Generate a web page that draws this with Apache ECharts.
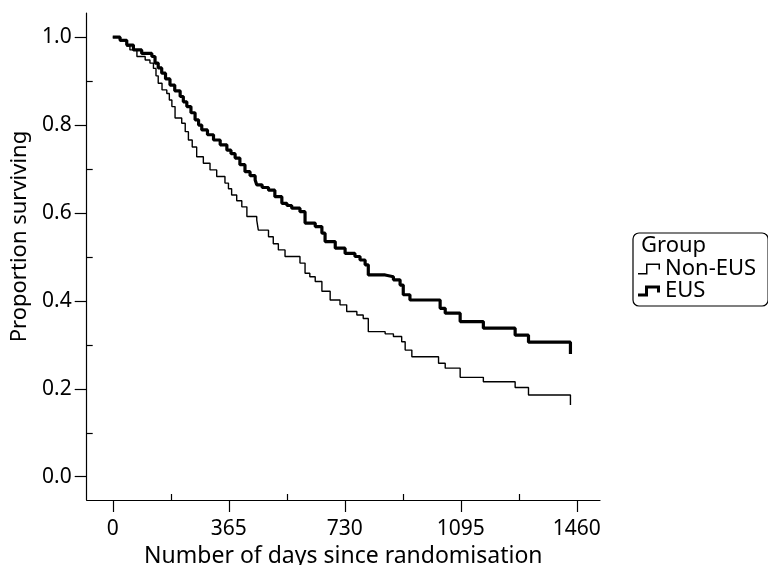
<!DOCTYPE html>
<html>
<head>
<meta charset="utf-8">
<script src="https://cdn.jsdelivr.net/npm/echarts@6/dist/echarts.min.js"></script>
<style>
  html, body { margin: 0; padding: 0; background: #fff; }
  #chart { width: 768px; height: 565px; }
</style>
</head>
<body>
<div id="chart"></div>
<script>
// ---- data ----
const seriesNames = ['Non-EUS', 'EUS'];
const legendTitle = 'Group';
const xTickValues = [0, 365, 730, 1095, 1460];
const xMinorTickValues = [182.5, 547.5, 912.5, 1277.5];
const yTickValues = [0.0, 0.2, 0.4, 0.6, 0.8, 1.0];
const yMinorTickValues = [0.1, 0.3, 0.5, 0.7, 0.9];
const xTitle = 'Number of days since randomisation';
const yTitle = 'Proportion surviving';

// Non-EUS (thin curve): days and proportion surviving
const nonEusDays = [0, 23, 44, 54, 76, 102, 117, 128, 136, 143, 155, 170, 178, 186, 196, 217, 228, 238, 250, 264, 285, 306, 327, 353, 364, 374, 390, 406, 422, 453, 458, 490, 505, 521, 542, 589, 605, 620, 637, 658, 684, 715, 736, 768, 788, 804, 857, 883, 909, 920, 941, 1025, 1046, 1093, 1166, 1266, 1308, 1440];
const nonEusSurv = [1.0, 0.991, 0.980, 0.971, 0.956, 0.948, 0.941, 0.929, 0.912, 0.895, 0.880, 0.872, 0.857, 0.842, 0.816, 0.804, 0.785, 0.766, 0.750, 0.728, 0.713, 0.698, 0.683, 0.668, 0.655, 0.641, 0.628, 0.614, 0.592, 0.584, 0.561, 0.546, 0.530, 0.516, 0.501, 0.486, 0.463, 0.455, 0.444, 0.422, 0.402, 0.391, 0.376, 0.368, 0.360, 0.330, 0.325, 0.319, 0.307, 0.288, 0.273, 0.258, 0.247, 0.226, 0.216, 0.203, 0.186, 0.163];

// EUS (thick curve)
const eusDays = [0, 23, 44, 65, 91, 123, 133, 143, 154, 166, 180, 195, 212, 222, 233, 246, 259, 270, 280, 298, 317, 338, 359, 372, 385, 400, 416, 432, 448, 453, 470, 490, 510, 532, 548, 563, 589, 605, 637, 658, 668, 700, 731, 762, 778, 794, 804, 857, 883, 904, 914, 935, 1030, 1046, 1093, 1166, 1266, 1308, 1440];
const eusSurv = [1.0, 0.993, 0.982, 0.971, 0.963, 0.956, 0.941, 0.930, 0.918, 0.905, 0.891, 0.878, 0.865, 0.853, 0.842, 0.828, 0.812, 0.800, 0.789, 0.778, 0.766, 0.755, 0.743, 0.735, 0.725, 0.710, 0.694, 0.685, 0.675, 0.664, 0.658, 0.652, 0.637, 0.622, 0.617, 0.611, 0.603, 0.577, 0.569, 0.554, 0.535, 0.520, 0.508, 0.501, 0.493, 0.482, 0.459, 0.455, 0.448, 0.436, 0.414, 0.402, 0.383, 0.372, 0.353, 0.338, 0.322, 0.306, 0.279];

const pair = (xs, ys) => xs.map((x, i) => [x, ys[i]]);

const FONT = 'Noto Sans';
const chart = echarts.init(document.getElementById('chart'), null, { renderer: 'canvas' });

const xBase = { type: 'value', min: -82, max: 1533, splitLine: { show: false } };
const yBase = { type: 'value', min: -0.053, max: 1.055, splitLine: { show: false } };

chart.setOption({
  animation: false,
  backgroundColor: '#fff',
  textStyle: { fontFamily: FONT, color: '#000' },
  grid: { left: 86.7, top: 13, width: 513.3, height: 487, containLabel: false, outerBoundsMode: 'none' },
  xAxis: [
    Object.assign({}, xBase, {
      position: 'bottom',
      name: xTitle, nameLocation: 'middle', nameGap: 37,
      nameTextStyle: { fontSize: 23, color: '#000', fontFamily: FONT },
      axisLine: { show: true, onZero: false, lineStyle: { color: '#000', width: 1.2 } },
      axisTick: { show: true, inside: false, length: 12, customValues: xTickValues, lineStyle: { color: '#000', width: 1.2 } },
      axisLabel: { show: true, customValues: xTickValues, margin: 19, fontSize: 21, color: '#000', fontFamily: FONT, formatter: v => String(v) }
    }),
    Object.assign({}, xBase, {
      position: 'bottom',
      axisLine: { show: false, onZero: false },
      axisTick: { show: true, inside: true, length: 6, customValues: xMinorTickValues, lineStyle: { color: '#000', width: 1.2 } },
      axisLabel: { show: false }
    })
  ],
  yAxis: [
    Object.assign({}, yBase, {
      position: 'left',
      name: yTitle, nameLocation: 'middle', nameGap: 52,
      nameTextStyle: { fontSize: 22, color: '#000', fontFamily: FONT, padding: [0, 0, 0, 40] },
      axisLine: { show: true, onZero: false, lineStyle: { color: '#000', width: 1.2 } },
      axisTick: { show: true, inside: false, length: 12, customValues: yTickValues, lineStyle: { color: '#000', width: 1.2 } },
      axisLabel: { show: true, customValues: yTickValues, margin: 15, fontSize: 21, color: '#000', fontFamily: FONT, formatter: v => v.toFixed(1) }
    }),
    Object.assign({}, yBase, {
      position: 'left',
      axisLine: { show: false, onZero: false },
      axisTick: { show: true, inside: true, length: 6, customValues: yMinorTickValues, lineStyle: { color: '#000', width: 1.2 } },
      axisLabel: { show: false }
    })
  ],
  legend: {
    orient: 'vertical',
    left: 633, top: 233,
    padding: [25, 12, 4, 5],
    itemGap: 0,
    itemWidth: 22, itemHeight: 11,
    borderColor: '#000', borderWidth: 1.2, borderRadius: 6,
    textStyle: { fontSize: 22, lineHeight: 21, color: '#000', fontFamily: FONT },
    itemStyle: { borderWidth: 0 },
    selectedMode: false,
    data: [
      { name: seriesNames[0], icon: 'path://M0,9.5H8V0H22V6H20.5V1.5H9.5V11H0Z' },
      { name: seriesNames[1], icon: 'path://M0,8H7V0H22V7H19V3H10V11H0Z' }
    ]
  },
  graphic: [{
    type: 'text', left: 641, top: 235,
    style: { text: legendTitle, fontSize: 22, fontFamily: FONT, fill: '#000' }
  }],
  series: [
    {
      name: seriesNames[0], type: 'line', step: 'end', showSymbol: false, symbol: 'none',
      xAxisIndex: 0, yAxisIndex: 0,
      data: pair(nonEusDays, nonEusSurv),
      itemStyle: { color: '#000' },
      lineStyle: { color: '#000', width: 1.4 }
    },
    {
      name: seriesNames[1], type: 'line', step: 'end', showSymbol: false, symbol: 'none',
      xAxisIndex: 0, yAxisIndex: 0,
      data: pair(eusDays, eusSurv),
      itemStyle: { color: '#000' },
      lineStyle: { color: '#000', width: 3.2 }
    }
  ]
});
</script>
</body>
</html>
